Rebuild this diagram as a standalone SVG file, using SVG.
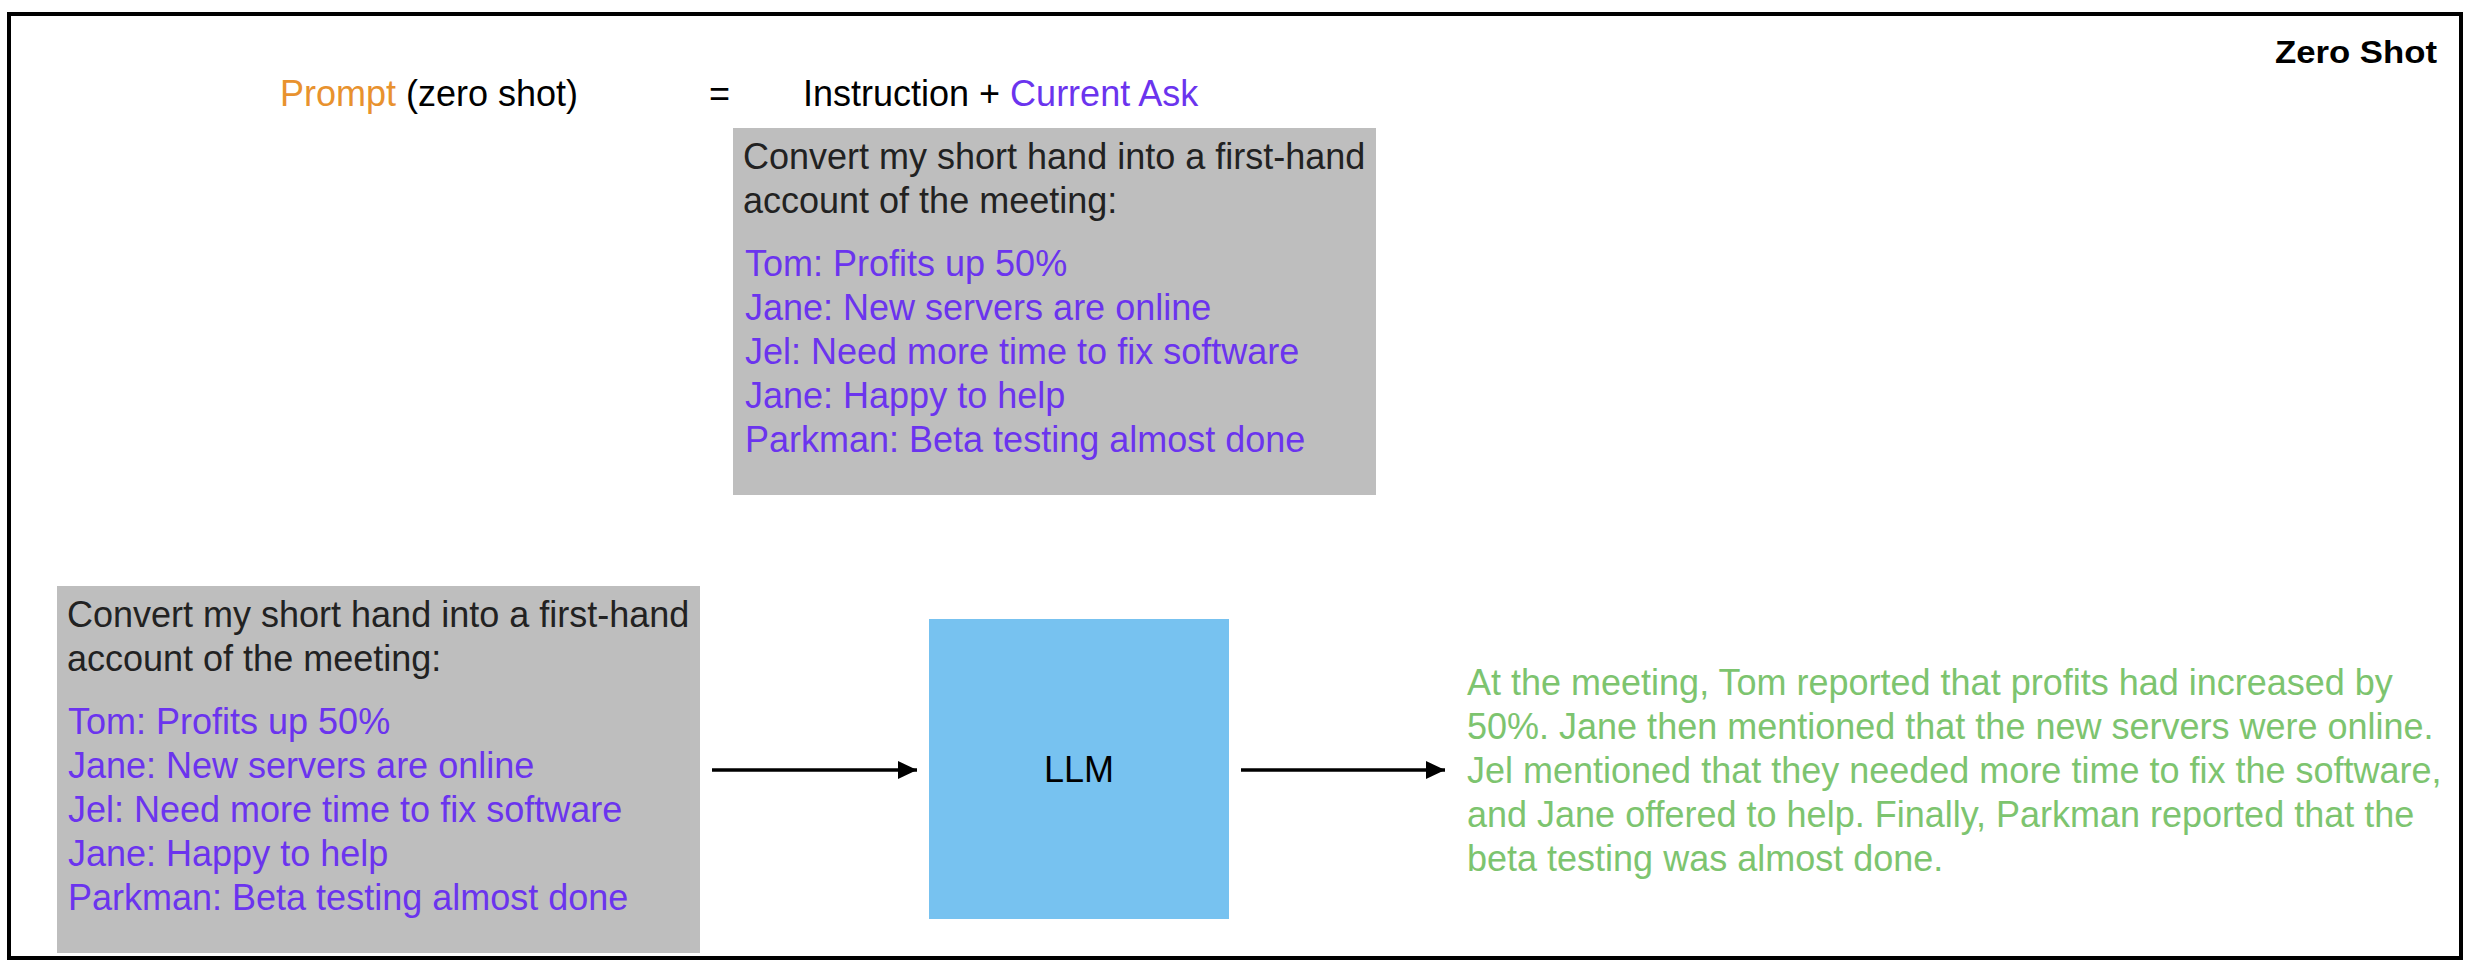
<svg xmlns="http://www.w3.org/2000/svg" width="2474" height="968" viewBox="0 0 2474 968">
<style>
  text { font-family: "Liberation Sans", Arial, sans-serif; font-size: 36px; }
  .blk { fill: #222222; }
  .pur { fill: #6B34EE; }
  .org { fill: #E8922E; }
  .grn { fill: #7DC46F; }
  .box { fill: #BEBEBE; }
  .conn { stroke: #000; stroke-width: 3.5; fill: none; }
</style>
<defs>
  <marker id="arrow" markerWidth="20" markerHeight="20" refX="19" refY="9" orient="auto" markerUnits="userSpaceOnUse">
    <path d="M0,0 L19,9 L0,18 Z" fill="#000"/>
  </marker>
</defs>
<rect x="0" y="0" width="2474" height="968" fill="#fff"/>
<g id="frame">
  <rect x="9" y="14" width="2452" height="944" fill="none" stroke="#000" stroke-width="4"/>
  <text x="2437" y="63" text-anchor="end" style="font-weight:bold;font-size:31px" textLength="162" lengthAdjust="spacingAndGlyphs" fill="#000">Zero Shot</text>
</g>
<g id="formula">
  <text x="280" y="106"><tspan class="org">Prompt</tspan><tspan fill="#000"> (zero shot)</tspan></text>
  <text x="709" y="106" fill="#000">=</text>
  <text x="803" y="106"><tspan fill="#000">Instruction + </tspan><tspan class="pur">Current Ask</tspan></text>
</g>
<g id="prompt-top">
  <rect class="box" x="733" y="128" width="643" height="367"/>
  <text class="blk" x="743" y="169">Convert my short hand into a first-hand</text>
  <text class="blk" x="743" y="213">account of the meeting:</text>
  <text class="pur" x="745" y="276">Tom: Profits up 50%</text>
  <text class="pur" x="745" y="320">Jane: New servers are online</text>
  <text class="pur" x="745" y="364">Jel: Need more time to fix software</text>
  <text class="pur" x="745" y="408">Jane: Happy to help</text>
  <text class="pur" x="745" y="452">Parkman: Beta testing almost done</text>
</g>
<g id="prompt-input">
  <rect class="box" x="57" y="586" width="643" height="367"/>
  <text class="blk" x="67" y="627">Convert my short hand into a first-hand</text>
  <text class="blk" x="67" y="671">account of the meeting:</text>
  <text class="pur" x="68" y="734">Tom: Profits up 50%</text>
  <text class="pur" x="68" y="778">Jane: New servers are online</text>
  <text class="pur" x="68" y="822">Jel: Need more time to fix software</text>
  <text class="pur" x="68" y="866">Jane: Happy to help</text>
  <text class="pur" x="68" y="910">Parkman: Beta testing almost done</text>
</g>
<g id="llm">
  <rect x="929" y="619" width="300" height="300" fill="#77C2F0"/>
  <text x="1079" y="782" text-anchor="middle" fill="#000">LLM</text>
</g>
<g id="output">
  <text class="grn" x="1467" y="695">At the meeting, Tom reported that profits had increased by</text>
  <text class="grn" x="1467" y="739">50%. Jane then mentioned that the new servers were online.</text>
  <text class="grn" x="1467" y="783">Jel mentioned that they needed more time to fix the software,</text>
  <text class="grn" x="1467" y="827">and Jane offered to help. Finally, Parkman reported that the</text>
  <text class="grn" x="1467" y="871">beta testing was almost done.</text>
</g>
<g id="connectors">
  <line class="conn" x1="712" y1="770" x2="917" y2="770" marker-end="url(#arrow)"/>
  <line class="conn" x1="1241" y1="770" x2="1445" y2="770" marker-end="url(#arrow)"/>
</g>
</svg>
